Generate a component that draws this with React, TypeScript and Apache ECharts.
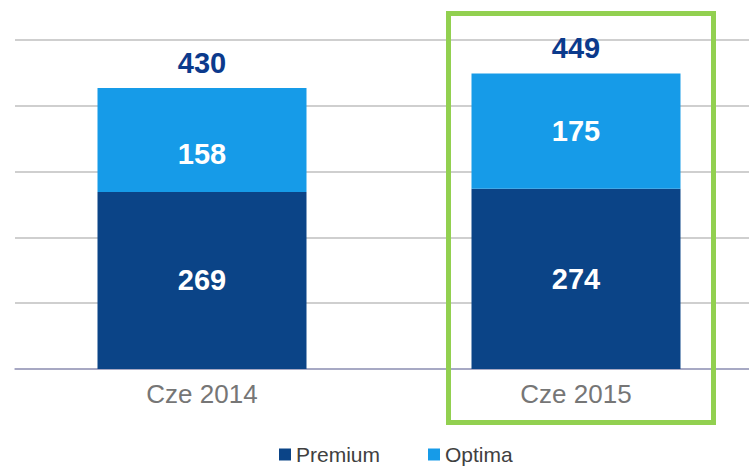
import React, { useEffect, useRef } from "react";
import * as echarts from "echarts";

const categories = ["Cze 2014", "Cze 2015"];
const premium = [269, 274];
const optima = [158, 175];
const totals = [430, 449];
const yTicks = { min: 0, max: 500, interval: 100 };

export default function App() {
  const ref = useRef<HTMLDivElement>(null);
  useEffect(() => {
    document.body.style.margin = "0";
    const chart = echarts.init(ref.current!, null, { renderer: "svg" });
    const font = "Liberation Sans, Arial, sans-serif";
    const inLabel = {
      show: true,
      position: "inside",
      fontSize: 29,
      fontWeight: "bold",
      color: "#fff",
      fontFamily: font,
    };
    chart.setOption({
      animation: false,
      grid: {
        left: 15,
        width: 748,
        top: 40,
        bottom: 99,
        containLabel: false,
        outerBoundsMode: "none",
      },
      legend: {
        data: ["Premium", "Optima"],
        left: 279,
        top: 444,
        padding: 0,
        icon: "rect",
        itemWidth: 12,
        itemHeight: 12,
        itemGap: 48,
        itemStyle: { borderWidth: 0 },
        textStyle: { fontSize: 21, color: "#404040", fontFamily: font },
      },
      xAxis: {
        type: "category",
        data: categories,
        axisTick: { show: false },
        axisLine: { lineStyle: { color: "#9A9CC0", width: 1.5 } },
        axisLabel: { fontSize: 26, color: "#767676", fontFamily: font, margin: 12 },
      },
      yAxis: {
        type: "value",
        ...yTicks,
        axisLabel: { show: false },
        axisLine: { show: false },
        axisTick: { show: false },
        splitLine: { lineStyle: { color: "#BFBFBF", width: 1.5 } },
      },
      series: [
        {
          name: "Premium",
          type: "bar",
          stack: "s",
          barWidth: 209,
          data: premium,
          itemStyle: { color: "#0B4487" },
          label: inLabel,
        },
        {
          name: "Optima",
          type: "bar",
          stack: "s",
          barWidth: 209,
          data: optima.map((v, i) => (i === 0 ? { value: v, label: { offset: [0, 14] } } : v)),
          itemStyle: { color: "#169BE8" },
          label: inLabel,
        },
        {
          name: "Total",
          type: "bar",
          stack: "s",
          barWidth: 209,
          data: totals.map(() => 0),
          itemStyle: { color: "transparent" },
          label: {
            show: true,
            position: "top",
            distance: 11,
            formatter: (p: any) => String(totals[p.dataIndex]),
            fontSize: 29,
            fontWeight: "bold",
            color: "#0B3A8C",
            fontFamily: font,
          },
        },
      ],
      graphic: [
        {
          type: "rect",
          shape: { x: 448.5, y: 13.5, width: 265, height: 409 },
          style: { fill: "none", stroke: "#92D050", lineWidth: 5 },
          z: 100,
        },
      ],
    });
    return () => chart.dispose();
  }, []);
  return (
    <div
      ref={ref}
      style={{ position: "absolute", left: 0, top: 0, width: 749, height: 468 }}
    />
  );
}
